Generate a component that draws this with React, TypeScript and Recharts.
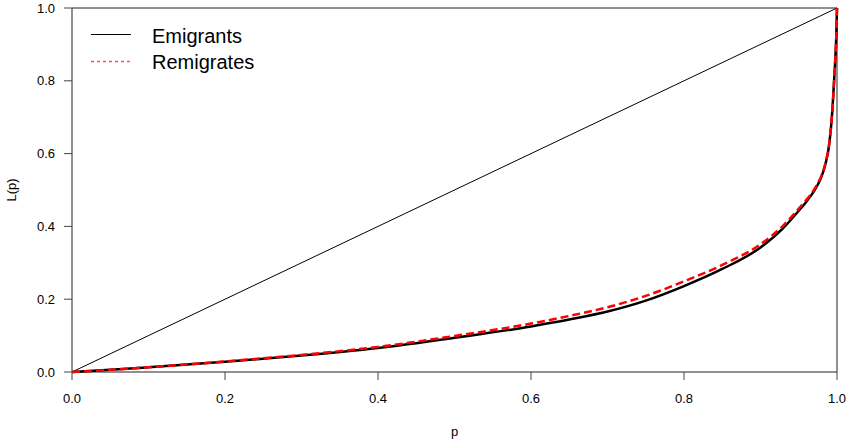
import React from 'react';
import { LineChart, Line, XAxis, YAxis, ReferenceArea } from 'recharts';

// Lorenz curves
const pValues = [0, 0.05, 0.1, 0.2, 0.3, 0.4, 0.5, 0.6, 0.65, 0.7, 0.75, 0.8, 0.85, 0.9, 0.93, 0.95, 0.96, 0.97, 0.975, 0.98, 0.985, 0.99, 0.994, 0.997, 0.999, 1];
const emigrants = [0, 0.006, 0.013, 0.028, 0.045, 0.066, 0.094, 0.125, 0.144, 0.166, 0.196, 0.236, 0.283, 0.342, 0.396, 0.443, 0.468, 0.497, 0.515, 0.538, 0.572, 0.628, 0.72, 0.83, 0.92, 1];
const remigrates = [0, 0.006, 0.013, 0.029, 0.047, 0.069, 0.099, 0.133, 0.154, 0.178, 0.209, 0.249, 0.294, 0.351, 0.403, 0.449, 0.473, 0.501, 0.519, 0.541, 0.575, 0.63, 0.721, 0.83, 0.92, 1];
const equality = [0, 1];
const ticks = [0, 0.2, 0.4, 0.6, 0.8, 1];

const emiData = pValues.map((p, i) => ({ p, L: emigrants[i] }));
const remiData = pValues.map((p, i) => ({ p, L: remigrates[i] }));
const eqData = equality.map((p) => ({ p, L: p }));

const font = 'Liberation Sans, Arial, sans-serif';

const YTitle = (props: any) => {
  const vb = props.viewBox || {};
  const cy = vb.y + vb.height / 2;
  return (
    <text x={16} y={cy} transform={`rotate(-90, 16, ${cy})`} textAnchor='middle' fontSize={13} fontFamily={font} fill='#000'>
      L(p)
    </text>
  );
};

export default function App() {
  return (
    <div style={{ position: 'absolute', left: 0, top: 0, width: 847, height: 443, background: '#fff', fontFamily: font }}>
      <LineChart width={847} height={443} margin={{ top: 8, right: 10, bottom: 0, left: 0 }}>
        <XAxis
          dataKey='p'
          type='number'
          domain={[0, 1]}
          ticks={ticks}
          tickFormatter={(v) => v.toFixed(1)}
          height={71}
          tickSize={8}
          tickMargin={14}
          axisLine={false}
          tickLine={{ stroke: '#444' }}
          tick={{ fill: '#000', fontSize: 13, fontFamily: font }}
          label={{ value: 'p', position: 'insideBottom', offset: 7, fill: '#000', fontSize: 13, fontFamily: font }}
        />
        <YAxis
          type='number'
          domain={[0, 1]}
          ticks={ticks}
          tickFormatter={(v) => v.toFixed(1)}
          width={72}
          tickSize={8}
          tickMargin={9}
          axisLine={false}
          tickLine={{ stroke: '#444' }}
          tick={{ fill: '#000', fontSize: 13, fontFamily: font }}
          label={<YTitle />}
        />
        <ReferenceArea x1={0} x2={1} y1={0} y2={1} fill='none' fillOpacity={0} stroke='#222' strokeWidth={1} />
        <Line data={eqData} dataKey='L' stroke='#000' strokeWidth={1} dot={false} isAnimationActive={false} />
        <Line data={emiData} dataKey='L' type='monotone' stroke='#000' strokeWidth={2.5} dot={false} isAnimationActive={false} />
        <Line data={remiData} dataKey='L' type='monotone' stroke='#ff0000' strokeWidth={2.5} strokeDasharray='8 4' dot={false} isAnimationActive={false} />
      </LineChart>
      <svg width={847} height={443} style={{ position: 'absolute', left: 0, top: 0, pointerEvents: 'none' }}>
        <line x1={91} x2={131} y1={34.5} y2={34.5} stroke='#000' strokeWidth={1} />
        <line x1={91} x2={131} y1={61.5} y2={61.5} stroke='#ff5050' strokeWidth={1.5} strokeDasharray='3 3' />
        <text x={152} y={43} fontSize={20} fontFamily={font} fill='#000'>Emigrants</text>
        <text x={152} y={69} fontSize={20} fontFamily={font} fill='#000'>Remigrates</text>
      </svg>
    </div>
  );
}
